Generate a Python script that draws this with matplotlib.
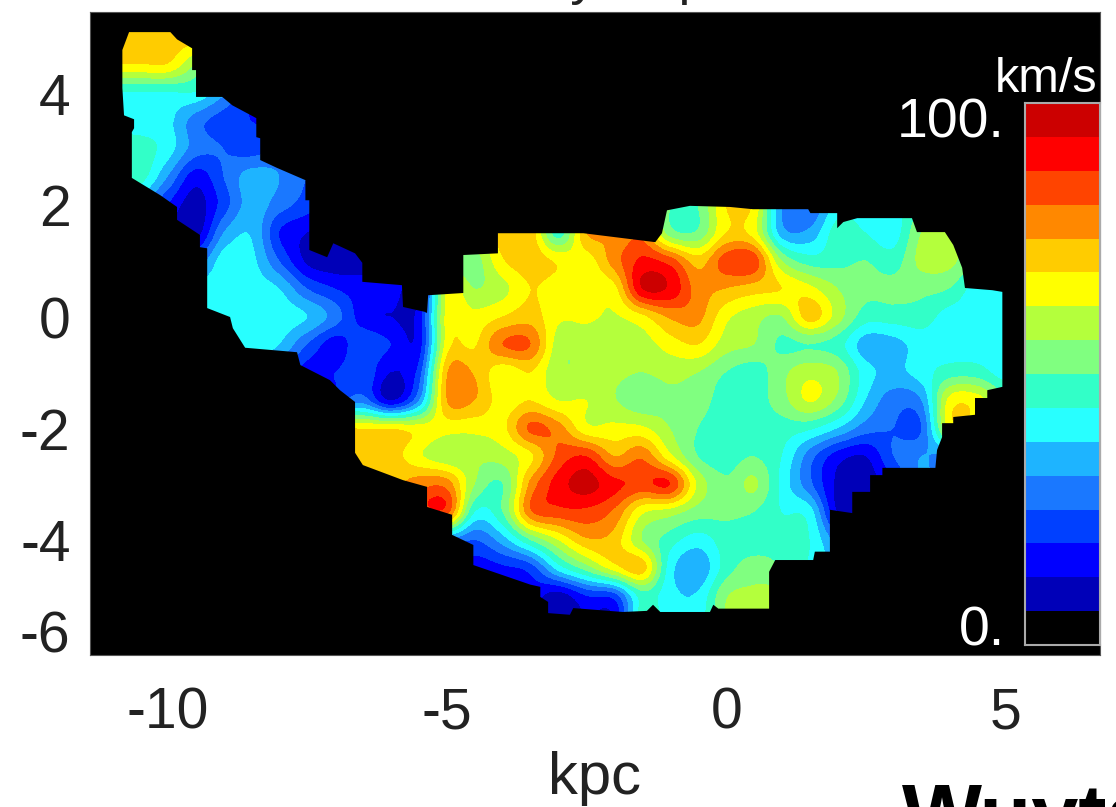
import numpy as np
import matplotlib
matplotlib.use('Agg')
import matplotlib.pyplot as plt
from matplotlib.colors import ListedColormap, BoundaryNorm
from matplotlib.patches import Polygon

plt.rcParams['font.family'] = ['Liberation Sans', 'DejaVu Sans']

n = np.nan

# centres of the map cells, kpc
x_kpc = np.arange(-11, 6, 0.5)
y_kpc = np.arange(5, -6, -0.5)

# colour bands of the bar, bottom to top (0 km/s to 100 km/s)
band_colors = ['#000000', '#0000b8', '#0000ff', '#0040ff', '#1a78ff', '#1eb4ff', '#28ffff', '#32ffc8',
               '#80ff80', '#b4ff3c', '#ffff00', '#ffcc00', '#ff8800', '#ff4400', '#ff0000', '#cc0000']
vmax = 100.0

# dispersion, in colour band units (one row per y_kpc)
sigma_bands = [
    [n, 11.5, 11.5, n, n, n, n, n, n, n, n, n, n, n, n, n, n, n, n, n, n, n, n, n, n, n, n, n, n, n, n, n, n, n],
    [n, 10.9, 10.9, n, n, n, n, n, n, n, n, n, n, n, n, n, n, n, n, n, n, n, n, n, n, n, n, n, n, n, n, n, n, n],
    [n, 6.9, 6.9, 6.9, n, n, n, n, n, n, n, n, n, n, n, n, n, n, n, n, n, n, n, n, n, n, n, n, n, n, n, n, n, n],
    [n, 6.5, 6.3, 4.5, 3.5, 3, n, n, n, n, n, n, n, n, n, n, n, n, n, n, n, n, n, n, n, n, n, n, n, n, n, n, n, n],
    [n, 7.5, 6.5, 4.5, 4, 3.5, n, n, n, n, n, n, n, n, n, n, n, n, n, n, n, n, n, n, n, n, n, n, n, n, n, n, n, n],
    [n, 7.5, 5, 2.5, 4, 5.5, 5, 4, n, n, n, n, n, n, n, n, n, n, n, n, n, n, n, n, n, n, n, n, n, n, n, n, n, n],
    [n, n, 3, 1.5, 3.5, 5.5, 4.5, 3.5, n, n, n, n, n, n, n, n, n, n, n, n, 8, 8, 11, 10.8, 5, 4, 6.5, 6.5, 6.5, 8, n, n, n, n],
    [n, n, n, 1.5, 5, 5.9, 3, 2, 1.5, n, n, n, n, n, 11.5, 11.6, 7.5, 12, 12, 12.5, 8.5, 8.2, 11, 10.5, 5.5, 5.3, 7.5, 7, 6.5, 9, 9, n, n, n],
    [n, n, n, n, 6.5, 6.3, 4, 1.8, 1.3, 1.5, n, n, 8, 8.5, 10.9, 11.6, 10.8, 10.5, 12.5, 14.2, 13.5, 11.5, 13.5, 13.6, 9, 7.5, 7.7, 8, 7.5, 9.3, 9.3, 8, n, n],
    [n, n, n, n, 6.5, 6.5, 6, 4, 3, 2.5, 2.5, 2.2, 10, 9, 9.7, 11, 10.5, 10.3, 10.7, 15, 14.8, 12.5, 12, 11.5, 11, 10.3, 9, 8.3, 8.3, 8.3, 8, 6.5, 6.5, n],
    [n, n, n, n, 6.5, 6.5, 6.5, 6, 4.5, 2.5, 2, 2.5, 10.4, 10.3, 11, 11.5, 10.2, 10.2, 9.9, 10.8, 12.2, 12.3, 10.3, 9.4, 9, 11.5, 9.5, 7.5, 7.5, 7.5, 6.6, 6.5, 6.5, n],
    [n, n, n, n, n, 6.5, 6, 4, 2.5, 3.8, 3, 2.5, 10.5, 10.9, 13, 13, 9.5, 9.3, 9.3, 9.5, 10.5, 11, 9.5, 9, 7.8, 8, 7.5, 5.5, 5.6, 6.5, 6.5, 6.5, 6.5, n],
    [n, n, n, n, n, n, n, 2.5, 3, 3.8, 2, 3.5, 11.9, 11.9, 10.3, 11, 9.2, 9.2, 9.2, 9, 9.3, 9, 8, 7.5, 8.7, 9.7, 9, 6.5, 5.7, 6.5, 7.5, 7.5, 6.5, n],
    [n, n, n, n, n, n, n, n, n, 4.5, 2, 5, 12, 12, 10.5, 11, 10, 10, 9.1, 8.3, 8.8, 8.5, 7.5, 7.5, 8.6, 10.1, 8.7, 6, 4.5, 5, 10.3, 10.5, n, n],
    [n, n, n, n, n, n, n, n, n, 10.9, 10.9, 10.5, 10.4, 10.3, 10.7, 13.2, 12.5, 10.3, 10.3, 10.2, 9, 8, 7.5, 7.5, 7.5, 7.2, 6, 4.5, 4, 4, 10.2, 10.3, n, n],
    [n, n, n, n, n, n, n, n, n, 11.5, 11.5, 10.2, 9.3, 9.2, 9.5, 10.8, 13.3, 14, 12, 12.8, 10.3, 8, 7.5, 8, 7, 4.5, 2.5, 2, 4, 5, 5, n, n, n],
    [n, n, n, n, n, n, n, n, n, n, 11.5, 12.6, 12.6, 9, 8, 12.3, 14.5, 15.4, 14.3, 13.7, 14, 9.8, 8.2, 9.2, 6.7, 4.3, 1.8, 1.5, n, n, n, n, n, n],
    [n, n, n, n, n, n, n, n, n, n, n, n, 13.4, 7, 8, 12.8, 13.6, 13.7, 12.8, 10.2, 9.5, 8.5, 8.2, 8, 7, 6.5, 2, n, n, n, n, n, n, n],
    [n, n, n, n, n, n, n, n, n, n, n, n, 5, 4, 5.5, 8, 10, 11.8, 11.5, 9, 7.5, 6.5, 7.5, 7.5, 7.5, 7, n, n, n, n, n, n, n, n],
    [n, n, n, n, n, n, n, n, n, n, n, n, n, 2.5, 2.8, 3.5, 6.5, 8.5, 10.5, 11.5, 6.5, 5.2, 7.5, 8.5, n, n, n, n, n, n, n, n, n, n],
    [n, n, n, n, n, n, n, n, n, n, n, n, n, n, 2, 2.5, 1.5, 3, 3.5, 7.5, 6.3, 6.2, 8.9, 9.2, n, n, n, n, n, n, n, n, n, n],
    [n, n, n, n, n, n, n, n, n, n, n, n, n, n, n, 2, 1.5, 2, 2, 8, 6.5, 6.5, 9, 9, n, n, n, n, n, n, n, n, n, n],
]

# edge of the measured region, kpc
edge_x = [-10.70, -9.96, -9.84, -9.57, -9.57, -9.50, -9.50, -9.03, -8.85, -8.42, -8.42, -8.35, -8.35, -8.05, -7.54,
          -7.54, -7.47, -7.47, -7.15, -7.04, -6.65, -6.52, -6.52, -5.81, -5.79, -5.39, -5.36, -5.34, -4.71, -4.71,
          -4.09, -4.09, -2.56, -1.27, -1.15, -1.06, -0.65, 0.07, 0.48, 1.47, 1.51, 1.99, 1.99, 2.10, 2.35, 3.33,
          3.42, 3.92, 4.07, 4.23, 4.28, 4.77, 4.95, 4.95, 4.68, 4.68, 4.46, 4.46, 4.07, 4.07, 3.87, 3.87, 3.78,
          3.75, 2.80, 2.80, 2.58, 2.58, 2.26, 2.26, 1.86, 1.86, 1.59, 1.56, 0.88, 0.77, 0.77, -0.14, -0.23, -0.29,
          -1.18, -1.31, -1.42, -1.85, -2.74, -2.80, -3.19, -3.19, -3.33, -3.33, -3.51, -4.53, -4.53, -4.91, -4.91,
          -5.36, -5.36, -5.79, -6.51, -6.65, -6.65, -6.92, -7.10, -7.63, -7.69, -8.62, -8.84, -8.89, -9.30, -9.30,
          -9.43, -9.43, -9.84, -9.84, -10.14, -10.65, -10.65, -10.61, -10.61, -10.79, -10.82, -10.82]
edge_y = [5.10, 5.10, 4.97, 4.81, 4.42, 4.42, 3.94, 3.94, 3.79, 3.56, 3.22, 3.20, 2.81, 2.67, 2.45,
          2.09, 2.09, 1.20, 1.07, 1.32, 1.14, 0.97, 0.63, 0.57, 0.18, 0.09, 0.07, 0.39, 0.43, 1.11,
          1.14, 1.50, 1.50, 1.34, 1.50, 1.91, 1.99, 1.97, 1.93, 1.93, 1.86, 1.86, 1.59, 1.70, 1.77, 1.77,
          1.52, 1.52, 1.29, 0.88, 0.52, 0.48, 0.45, -1.25, -1.31, -1.45, -1.45, -1.75, -1.79, -1.90, -1.90, -2.15, -2.38,
          -2.70, -2.70, -2.83, -2.83, -3.13, -3.13, -3.51, -3.45, -4.20, -4.20, -4.35, -4.35, -4.56, -5.22, -5.22, -5.15, -5.28,
          -5.28, -5.15, -5.26, -5.28, -5.21, -5.33, -5.30, -5.10, -5.01, -4.83, -4.79, -4.44, -4.08, -3.90, -3.54,
          -3.40, -3.04, -2.92, -2.65, -2.43, -1.52, -1.31, -1.13, -0.86, -0.63, -0.55, -0.20, 0.00, 0.16, 1.23,
          1.25, 1.47, 1.74, 1.97, 2.18, 2.49, 3.31, 3.38, 3.54, 3.61, 4.10, 4.78]

x_ticks = [-10, -5, 0, 5]
y_ticks = [-6, -4, -2, 0, 2, 4]

# grid outside the region gets its neighbours' values, the edge clips it away anyway
grid = np.array(sigma_bands, dtype=float)
while np.isnan(grid).any():
    padded = np.pad(grid, 1, constant_values=np.nan)
    around = np.stack([padded[:-2, 1:-1], padded[2:, 1:-1], padded[1:-1, :-2], padded[1:-1, 2:]])
    known = ~np.isnan(around)
    total = np.where(known, around, 0).sum(axis=0)
    count = known.sum(axis=0)
    grid = np.where(np.isnan(grid) & (count > 0), total / np.maximum(count, 1), grid)

cmap = ListedColormap(band_colors)
norm = BoundaryNorm(np.arange(len(band_colors) + 1), cmap.N)

fig = plt.figure(figsize=(11.16, 8.07), dpi=100)
ax = fig.add_axes([90 / 1116, 1 - 655 / 807, 1010 / 1116, 643 / 807])
ax.set_facecolor('black')

im = ax.imshow(grid, cmap=cmap, norm=norm, interpolation='catrom', interpolation_stage='data', aspect='auto',
               extent=[x_kpc[0] - 0.25, x_kpc[-1] + 0.25, y_kpc[-1] - 0.25, y_kpc[0] + 0.25])
im.set_clip_path(Polygon(list(zip(edge_x, edge_y)), transform=ax.transData))
ax.set_xlim(-11.40, 6.70)
ax.set_ylim(-6.05, 5.46)

for side in ax.spines.values():
    side.set_color('#555555')
ax.set_xticks(x_ticks)
ax.set_yticks(y_ticks)
ax.set_xticklabels([str(t) for t in x_ticks], color='#222222')
ax.set_yticklabels([str(t) for t in y_ticks], color='#222222')
ax.tick_params(axis='x', length=0, labelsize=41, pad=23)
ax.tick_params(axis='y', length=0, labelsize=41, pad=14)
ax.get_yticklabels()[0].set_va('baseline')
ax.set_xlabel('kpc', fontsize=43, color='#222222', labelpad=7)

# colour bar inside the map
cax = fig.add_axes([1025 / 1116, 1 - 645 / 807, 75 / 1116, 542 / 807])
cax.imshow(np.arange(len(band_colors)).reshape(-1, 1), cmap=cmap, norm=norm, origin='lower', aspect='auto',
           interpolation='nearest')
cax.set_xticks([])
cax.set_yticks([])
for side in cax.spines.values():
    side.set_color('#aaaaaa')
    side.set_linewidth(1.5)

fig.text(1097 / 1116, 1 - 92 / 807, 'km/s', color='white', fontsize=35, ha='right', va='baseline')
fig.text(1005 / 1116, 1 - 138 / 807, f'{vmax:.0f}.', color='white', fontsize=40, ha='right', va='baseline')
fig.text(1005 / 1116, 1 - 645 / 807, '0.', color='white', fontsize=40, ha='right', va='baseline')

# title and credit are cut off by the edge of the picture
fig.text(415 / 1116, 1 + 6 / 807, 'Velocity dispersion', color='#222222', fontsize=38, ha='left', va='baseline')
fig.text(902 / 1116, 1 - 844 / 807, 'Wuyts', color='black', fontsize=61, fontweight='bold', ha='left', va='baseline')

fig.savefig('out.png', dpi=100)
